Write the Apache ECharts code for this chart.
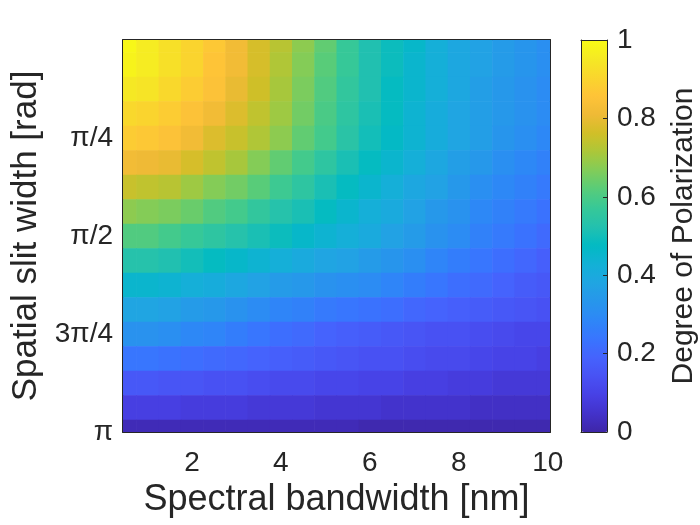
<!doctype html>
<html>
<head>
<meta charset="utf-8">
<title>Degree of Polarization</title>
<script src="https://cdn.jsdelivr.net/npm/echarts@6/dist/echarts.min.js"></script>
<style>
    body{
        margin:0;
        padding:0;
        background:#fff;
    }
    #chart{
        width:700px;
        height:525px;
    }
</style>
</head>
<body>
<div id="chart"></div>
<script>
// spectral bandwidth [nm], cell centres
var bandwidth = [0.5, 1, 1.5, 2, 2.5, 3, 3.5, 4, 4.5, 5, 5.5, 6, 6.5, 7, 7.5, 8, 8.5, 9, 9.5, 10];
// spatial slit width [rad], rows from 0 to pi in steps of pi/16
var slitWidth = [0, 0.1963, 0.3927, 0.5890, 0.7854, 0.9817, 1.1781, 1.3744, 1.5708,
                 1.7671, 1.9635, 2.1598, 2.3562, 2.5525, 2.7489, 2.9452, 3.1416];
// degree of polarization, one row per slit width
var dop = [
    [0.99,0.96,0.93,0.90,0.87,0.82,0.77,0.73,0.68,0.63,0.57,0.52,0.49,0.46,0.42,0.39,0.37,0.35,0.33,0.31],
    [0.98,0.96,0.93,0.90,0.86,0.82,0.77,0.72,0.67,0.62,0.57,0.52,0.49,0.45,0.42,0.39,0.37,0.35,0.33,0.31],
    [0.95,0.94,0.91,0.88,0.85,0.80,0.76,0.71,0.66,0.61,0.56,0.52,0.48,0.45,0.42,0.39,0.36,0.34,0.32,0.30],
    [0.91,0.90,0.88,0.85,0.82,0.78,0.74,0.70,0.65,0.60,0.55,0.51,0.48,0.44,0.41,0.38,0.36,0.34,0.32,0.30],
    [0.88,0.87,0.85,0.82,0.78,0.75,0.72,0.68,0.63,0.59,0.54,0.50,0.47,0.44,0.41,0.38,0.36,0.33,0.31,0.29],
    [0.82,0.81,0.80,0.77,0.74,0.71,0.67,0.63,0.59,0.55,0.51,0.48,0.45,0.42,0.39,0.36,0.34,0.31,0.29,0.27],
    [0.75,0.74,0.73,0.70,0.67,0.65,0.62,0.58,0.55,0.51,0.48,0.45,0.42,0.39,0.37,0.34,0.31,0.29,0.27,0.25],
    [0.68,0.67,0.66,0.64,0.61,0.59,0.56,0.53,0.51,0.48,0.45,0.42,0.40,0.37,0.34,0.32,0.29,0.27,0.25,0.23],
    [0.61,0.61,0.59,0.57,0.55,0.53,0.51,0.49,0.46,0.44,0.42,0.40,0.37,0.35,0.32,0.30,0.27,0.25,0.23,0.21],
    [0.53,0.53,0.52,0.50,0.48,0.46,0.44,0.42,0.40,0.38,0.37,0.35,0.33,0.31,0.28,0.26,0.24,0.22,0.20,0.18],
    [0.45,0.45,0.44,0.42,0.41,0.39,0.37,0.35,0.34,0.32,0.31,0.30,0.28,0.26,0.24,0.22,0.21,0.19,0.17,0.16],
    [0.38,0.38,0.37,0.35,0.34,0.32,0.30,0.28,0.27,0.25,0.24,0.23,0.22,0.20,0.19,0.18,0.17,0.16,0.15,0.14],
    [0.32,0.32,0.31,0.29,0.28,0.26,0.24,0.22,0.21,0.19,0.18,0.17,0.16,0.15,0.14,0.14,0.13,0.12,0.11,0.11],
    [0.24,0.24,0.23,0.22,0.21,0.20,0.19,0.18,0.17,0.16,0.15,0.14,0.14,0.13,0.12,0.12,0.11,0.10,0.10,0.09],
    [0.16,0.16,0.15,0.15,0.14,0.14,0.13,0.12,0.12,0.11,0.11,0.10,0.10,0.09,0.09,0.08,0.08,0.07,0.07,0.07],
    [0.09,0.09,0.09,0.08,0.08,0.08,0.07,0.07,0.07,0.06,0.06,0.06,0.05,0.05,0.05,0.05,0.04,0.04,0.04,0.04],
    [0.02,0.02,0.02,0.02,0.02,0.02,0.02,0.02,0.02,0.02,0.02,0.01,0.01,0.01,0.01,0.01,0.01,0.01,0.01,0.01]
];
var xTicks = [2, 4, 6, 8, 10];
var yTicks = [Math.PI / 4, Math.PI / 2, 3 * Math.PI / 4, Math.PI];
var yTickLabels = ['π/4', 'π/2', '3π/4', 'π'];

// parula
var parula = ['#3e26a8','#4332cb','#4741e5','#4852f4','#4563fd','#3875fe','#2e87f7','#2796eb',
              '#20a5e2','#12b1d6','#02bac3','#24c1ae','#37c897','#57cc7a','#81cc59','#abc739',
              '#d1bf27','#efba36','#fec338','#f9d62d','#f5e924','#f9fb15'];

var xStep = 0.5, yStep = Math.PI / 16;
var ink = '#262626';
var font = "'Liberation Sans', Arial, sans-serif";

var cells = [];
for (var r = 0; r < slitWidth.length; r++) {
    for (var c = 0; c < bandwidth.length; c++) {
        cells.push([bandwidth[c], slitWidth[r], dop[r][c]]);
    }
}

function renderCell(params, api) {
    var x = api.value(0), y = api.value(1);
    var p0 = api.coord([x - xStep / 2, y - yStep / 2]);
    var p1 = api.coord([x + xStep / 2, y + yStep / 2]);
    var rect = echarts.graphic.clipRectByRect({
        x: Math.min(p0[0], p1[0]),
        y: Math.min(p0[1], p1[1]),
        width: Math.abs(p1[0] - p0[0]) + 0.6,
        height: Math.abs(p1[1] - p0[1]) + 0.6
    }, {
        x: params.coordSys.x,
        y: params.coordSys.y,
        width: params.coordSys.width,
        height: params.coordSys.height
    });
    return rect && {
        type: 'rect',
        shape: rect,
        style: {fill: api.visual('color')}
    };
}

function yLabel(v) {
    for (var i = 0; i < yTicks.length; i++) {
        if (Math.abs(yTicks[i] - v) < 1e-6) return yTickLabels[i];
    }
    return '';
}

var tickStyle = {show: true, inside: true, length: 4, lineStyle: {color: ink, width: 2}};
var lineStyle = {show: true, onZero: false, lineStyle: {color: ink, width: 2}};
var plainLine = {show: true, onZero: false, lineStyle: {color: ink, width: 1}};

var chart = echarts.init(document.getElementById('chart'));
var option = {
    backgroundColor: '#fff',
    animation: false,
    textStyle: {fontFamily: font},
    grid: [
        {left: 123, top: 40, width: 427, height: 392},
        {left: 581, top: 40, width: 27, height: 392}
    ],
    visualMap: {
        type: 'continuous',
        min: 0,
        max: 1,
        dimension: 2,
        seriesIndex: 0,
        calculable: false,
        hoverLink: false,
        left: 581,
        top: 40,
        itemWidth: 27,
        itemHeight: 392,
        padding: 0,
        inRange: {color: parula}
    },
    xAxis: [
        {
            type: 'value', gridIndex: 0, position: 'bottom',
            min: 0.45, max: 10.05,
            name: 'Spectral bandwidth [nm]', nameLocation: 'middle', nameGap: 50,
            nameTextStyle: {color: ink, fontSize: 36, fontFamily: font},
            axisLine: lineStyle,
            axisTick: Object.assign({customValues: xTicks}, tickStyle),
            axisLabel: {customValues: xTicks, color: ink, fontSize: 28, margin: 17, fontFamily: font},
            splitLine: {show: false}
        },
        {
            type: 'value', gridIndex: 0, position: 'top',
            min: 0.45, max: 10.05,
            axisLine: lineStyle,
            axisTick: Object.assign({customValues: xTicks}, tickStyle),
            axisLabel: {show: false},
            splitLine: {show: false}
        },
        {
            type: 'value', gridIndex: 1, position: 'bottom', min: 0, max: 1, z: 10,
            axisLine: plainLine, axisTick: {show: false}, axisLabel: {show: false}, splitLine: {show: false}
        },
        {
            type: 'value', gridIndex: 1, position: 'top', min: 0, max: 1, z: 10,
            axisLine: plainLine, axisTick: {show: false}, axisLabel: {show: false}, splitLine: {show: false}
        }
    ],
    yAxis: [
        {
            type: 'value', gridIndex: 0, position: 'left', inverse: true,
            min: 0, max: Math.PI,
            name: 'Spatial slit width [rad]', nameLocation: 'middle', nameGap: 78, nameRotate: 90,
            nameTextStyle: {color: ink, fontSize: 35, fontFamily: font},
            axisLine: lineStyle,
            axisTick: Object.assign({customValues: yTicks}, tickStyle),
            axisLabel: {customValues: yTicks, formatter: yLabel, color: ink, fontSize: 28, margin: 10, fontFamily: font},
            splitLine: {show: false}
        },
        {
            type: 'value', gridIndex: 0, position: 'right', inverse: true,
            min: 0, max: Math.PI,
            axisLine: lineStyle,
            axisTick: Object.assign({customValues: yTicks}, tickStyle),
            axisLabel: {show: false},
            splitLine: {show: false}
        },
        {
            type: 'value', gridIndex: 1, position: 'left', min: 0, max: 1, z: 10,
            axisLine: plainLine, axisTick: {show: false}, axisLabel: {show: false}, splitLine: {show: false}
        },
        {
            type: 'value', gridIndex: 1, position: 'right', min: 0, max: 1, interval: 0.2, z: 10,
            name: 'Degree of Polarization', nameLocation: 'middle', nameGap: 62, nameRotate: 90,
            nameTextStyle: {color: ink, fontSize: 30, fontFamily: font},
            axisLine: plainLine,
            axisTick: {show: true, inside: true, length: 4, lineStyle: {color: ink, width: 1}},
            axisLabel: {color: ink, fontSize: 28, margin: 10, fontFamily: font},
            splitLine: {show: false}
        }
    ],
    series: [
        {
            type: 'custom',
            xAxisIndex: 0,
            yAxisIndex: 0,
            renderItem: renderCell,
            encode: {x: 0, y: 1},
            data: cells
        }
    ]
};
chart.setOption(option);
</script>
</body>
</html>
